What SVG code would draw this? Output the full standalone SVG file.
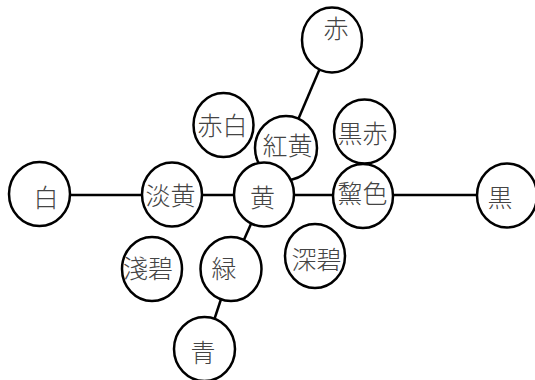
<svg xmlns="http://www.w3.org/2000/svg" width="535" height="380" viewBox="0 0 535 380">
<style>
.n ellipse{fill:#fff;stroke:#000;stroke-width:2.5}
.n text{font-family:"Noto Sans CJK JP","Noto Sans CJK SC",sans-serif;font-size:25px;font-weight:300;fill:#444;text-anchor:middle;dominant-baseline:central}
#edges line{stroke:#000;stroke-width:2.5}
</style>
<rect width="535" height="380" fill="#fff"/>
<g id="edges">
<line x1="39.5" y1="195" x2="172" y2="195"/>
<line x1="172" y1="195" x2="264" y2="195"/>
<line x1="264" y1="195" x2="363" y2="195"/>
<line x1="363" y1="195" x2="507" y2="195"/>
<line x1="332" y1="40" x2="286" y2="148"/>
<line x1="286" y1="148" x2="264" y2="194.5"/>
<line x1="264" y1="194.5" x2="231" y2="269"/>
<line x1="231" y1="269" x2="204.5" y2="349"/>
</g>
<g id="n-shiro" class="n"><ellipse cx="39.5" cy="194" rx="30.5" ry="32"/><text x="46" y="195.5">白</text></g>
<g id="n-tanki" class="n"><ellipse cx="172" cy="194.5" rx="30" ry="32"/><text x="170.5" y="194">淡黄</text></g>
<g id="n-aka" class="n"><ellipse cx="332" cy="40" rx="30" ry="32.5"/><text x="336" y="27">赤</text></g>
<g id="n-sekihaku" class="n"><ellipse cx="223.5" cy="125" rx="30" ry="32"/><text x="222.5" y="124">赤白</text></g>
<g id="n-kouki" class="n"><ellipse cx="286" cy="148" rx="31" ry="32"/><text x="287.5" y="144">紅黄</text></g>
<g id="n-kokuseki" class="n"><ellipse cx="364.5" cy="131.5" rx="30.5" ry="32"/><text x="362.5" y="132">黒赤</text></g>
<g id="n-ki" class="n"><ellipse cx="264" cy="194.5" rx="30" ry="32"/><text x="262.5" y="196">黄</text></g>
<g id="n-reishoku" class="n"><ellipse cx="363" cy="196" rx="30" ry="32"/><text x="362.5" y="192">黧色</text></g>
<g id="n-kuro" class="n"><ellipse cx="507" cy="195.5" rx="30" ry="32"/><text x="500" y="196">黒</text></g>
<g id="n-senpeki" class="n"><ellipse cx="152" cy="269" rx="30" ry="32"/><text x="148" y="267">淺碧</text></g>
<g id="n-midori" class="n"><ellipse cx="231" cy="269" rx="30.5" ry="32"/><text x="224" y="267">緑</text></g>
<g id="n-shinpeki" class="n"><ellipse cx="315" cy="256" rx="30" ry="32"/><text x="316.5" y="258">深碧</text></g>
<g id="n-ao" class="n"><ellipse cx="204.5" cy="349" rx="30.5" ry="32"/><text x="203" y="351">青</text></g>
</svg>
